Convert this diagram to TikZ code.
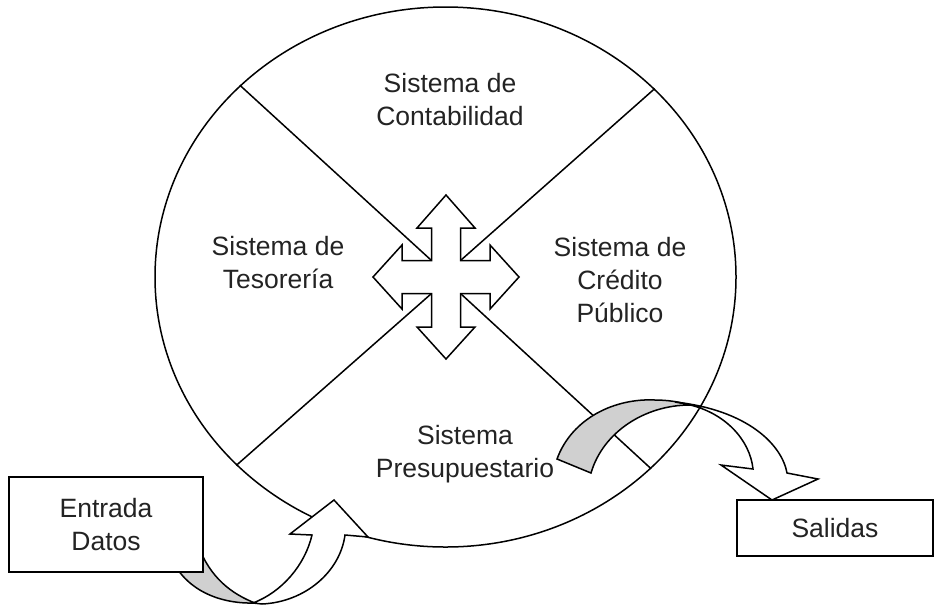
\documentclass[tikz,border=0pt]{standalone}
\usepackage{fontspec}
\setmainfont{Liberation Sans}
\usetikzlibrary{shapes.geometric}
\definecolor{bandgrey}{RGB}{208,208,208}
\definecolor{txt}{RGB}{35,35,35}
\begin{document}
\begin{tikzpicture}[x=1pt,y=-1pt,
  ln/.style={line width=1.5pt, line join=miter},
  lbl/.style={align=center, text=txt, font=\fontsize{26.5}{33}\selectfont, inner sep=0pt},
  boxnode/.style={draw, line width=1.5pt, fill=white, inner sep=0pt}]
\useasboundingbox (0,0) rectangle (941,606);
% big ellipse
\node[ellipse, draw, ln, minimum width=581pt, minimum height=540pt, inner sep=0pt] (circ) at (445.5,277) {};
% inner corners of the cross
\coordinate (c1) at (431.5,260.5);
\coordinate (c2) at (460.5,260.5);
\coordinate (c3) at (460.5,293.5);
\coordinate (c4) at (431.5,293.5);
\draw[ln] (circ.137.7) -- (c1);
\draw[ln] (circ.42.3) -- (c2);
\draw[ln] (circ.317.4) -- (c3);
\draw[ln] (circ.222.9) -- (c4);
% four-way arrow
\draw[ln, fill=white] (446,195) -- (475,228) -- (460.5,228) -- (c2) -- (490,260.5) -- (490,245) -- (519,277)
  -- (490,309) -- (490,293.5) -- (c3) -- (460.5,327) -- (475,327) -- (446,359) -- (417,327)
  -- (431.5,327) -- (c4) -- (402,293.5) -- (402,309) -- (373,277) -- (402,245) -- (402,260.5)
  -- (c1) -- (431.5,228) -- (417,228) -- cycle;
% labels
\node[lbl] (cont) at (450,100) {Sistema de\\Contabilidad};
\node[lbl] (teso) at (278,263) {Sistema de\\Tesorería};
\node[lbl] (cred) at (620,280) {Sistema de\\Crédito\\Público};
\node[lbl] (pres) at (465,454) {Sistema\\Presupuestario};
% Salidas curved arrow
\draw[ln, fill=bandgrey] (557,459) .. controls (572,418) and (615,398) .. (655,400)
  .. controls (668,400) and (680,402) .. (690,405)
  .. controls (645,405) and (603,432) .. (591,473) -- cycle;
\draw[ln, fill=white] (686,404) .. controls (725,412) and (750,440) .. (753,469) -- (721,465) -- (772,500)
  -- (818,479) -- (787,473) .. controls (782,445) and (748,410) .. (675,402) -- cycle;
\node[boxnode, minimum width=196pt, minimum height=56pt] (sal) at (835,528) {};
\node[lbl] (saltxt) at (sal.center) {Salidas};
% Entrada curved arrow
\draw[ln, fill=bandgrey] (172,560) .. controls (188,592) and (222,604) .. (255,603)
  .. controls (232,594) and (210,578) .. (198,545) -- cycle;
\node[boxnode, minimum width=194pt, minimum height=95pt] (ent) at (106,524.5) {};
\node[lbl] (enttxt) at (ent.center) {Entrada\\Datos};
\draw[ln, fill=white] (253,603) .. controls (282,592) and (305,565) .. (312,535) -- (290,534) -- (334,500)
  -- (368,537) -- (345,535) .. controls (340,572) and (305,602) .. (262,604) -- cycle;
\end{tikzpicture}
\end{document}
